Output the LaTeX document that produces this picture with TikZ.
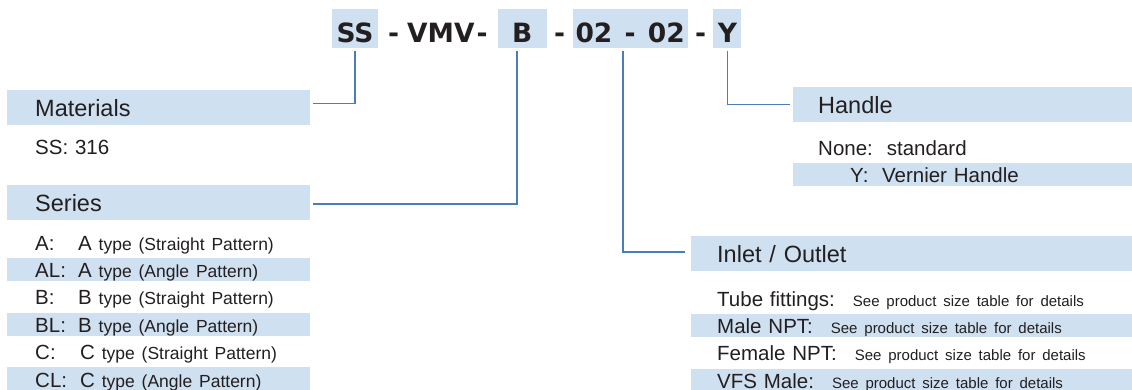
\documentclass[tikz,border=0pt]{standalone}
\usepackage{fontspec}
\setmainfont{Liberation Sans}
\newfontfamily\codefont{DejaVu Sans}
\usepackage{tikz}
\usetikzlibrary{positioning}

\definecolor{lightblue}{RGB}{207,224,241}
\definecolor{linkblue}{RGB}{74,126,187}
\definecolor{inkgray}{RGB}{35,31,32}

\newcommand{\headfont}{\fontsize{23.5}{28}\selectfont}
\newcommand{\rowfont}{\fontsize{20.5}{24}\selectfont}
\newcommand{\typefont}{\fontsize{17.5}{20}\selectfont}
\newcommand{\detailfont}{\fontsize{15}{18}\selectfont}

\begin{document}
\begin{tikzpicture}[
	x=1pt, y=-1pt, text=inkgray,
	code/.style={fill=lightblue, minimum height=39pt, inner sep=0pt, text height=28.4pt, text depth=0pt, font=\codefont\bfseries\fontsize{26.5}{30}\selectfont},
	sep/.style={code, fill=none},
	head/.style={fill=lightblue, minimum height=35pt, inner ysep=0pt, inner xsep=28pt, text height=17pt, text depth=0pt, align=left, font=\headfont},
	row/.style={minimum height=23pt, inner ysep=0pt, inner xsep=28pt, text height=16.5pt, text depth=0pt, align=left, font=\rowfont},
	shade/.style={row, fill=lightblue},
	link/.style={linkblue, line width=1.6pt}
]
	\useasboundingbox (0,0) rectangle (1132,389);

	% part number
	\node (ss) [code, minimum width=46pt] at (355,28.5) {SS};
	\node (vmv) [sep, minimum width=119pt, right=0pt of ss] {-\hspace{8pt}VMV\hspace{2pt}-};
	\node (bcode) [code, minimum width=49pt, right=0pt of vmv] {B};
	\node (dashb) [sep, minimum width=25pt, right=0pt of bcode] {-};
	\node (size) [code, minimum width=115pt, right=0pt of dashb] {02\hspace{3pt} - \hspace{3pt}02};
	\node (dashy) [sep, minimum width=25pt, right=0pt of size] {-};
	\node (ycode) [code, minimum width=28pt, right=0pt of dashy] {Y};

	% materials
	\node (materials) [head, text width=247pt, anchor=west] at (7,107.5) {Materials};
	\node (ssrow) [row, text width=247pt, below=9pt of materials] {SS: 316};

	% series
	\node (series) [head, text width=247pt, anchor=west] at (7,202.5) {Series};
	\node (a) [row, text width=247pt, below=10pt of series] {\makebox[43pt][l]{A:}A {\typefont type (Straight Pattern)}};
	\node (al) [shade, text width=247pt, below=4pt of a] {\makebox[43pt][l]{AL:}A {\typefont type (Angle Pattern)}};
	\node (b) [row, text width=247pt, below=4pt of al] {\makebox[43pt][l]{B:}B {\typefont type (Straight Pattern)}};
	\node (bl) [shade, text width=247pt, below=4pt of b] {\makebox[43pt][l]{BL:}B {\typefont type (Angle Pattern)}};
	\node (c) [row, text width=247pt, below=4pt of bl] {\makebox[45pt][l]{C:}C {\typefont type (Straight Pattern)}};
	\node (cl) [shade, text width=247pt, below=4pt of c] {\makebox[45pt][l]{CL:}C {\typefont type (Angle Pattern)}};

	% handle
	\node (handle) [head, text width=289pt, inner xsep=25pt, anchor=west] at (793,104.5) {Handle};
	\node (none) [row, text width=289pt, inner xsep=25pt, below=13pt of handle] {None:\hspace{14pt}standard};
	\node (vernier) [shade, text width=289pt, inner xsep=25pt, below=4pt of none] {\hspace*{32pt}Y:\ \ Vernier Handle};

	% inlet / outlet
	\node (inlet) [head, text width=389pt, inner xsep=26pt, anchor=west] at (691,253.5) {Inlet / Outlet};
	\node (tube) [row, text width=389pt, inner xsep=26pt, below=15pt of inlet] {Tube fittings:\hspace{18pt}{\detailfont See product size table for details}};
	\node (male) [shade, text width=389pt, inner xsep=26pt, below=4pt of tube] {Male NPT:\hspace{18pt}{\detailfont See product size table for details}};
	\node (female) [row, text width=389pt, inner xsep=26pt, below=4pt of male] {Female NPT:\hspace{18pt}{\detailfont See product size table for details}};
	\node (vfs) [shade, text width=389pt, inner xsep=26pt, below=4pt of female] {VFS Male:\hspace{18pt}{\detailfont See product size table for details}};

	\draw [link] ([yshift=-3pt]ss.south) |- ([xshift=3pt,yshift=4pt]materials.east);
	\draw [link] ([xshift=-5.5pt,yshift=-3pt]bcode.south) |- ([xshift=3pt,yshift=-1.5pt]series.east);
	\draw [link] ([xshift=-7pt,yshift=-3pt]size.south) |- ([xshift=-6pt,yshift=1.5pt]inlet.west);
	\draw [link] ([yshift=-3pt]ycode.south) |- ([xshift=-3pt]handle.west);

\end{tikzpicture}
\end{document}
